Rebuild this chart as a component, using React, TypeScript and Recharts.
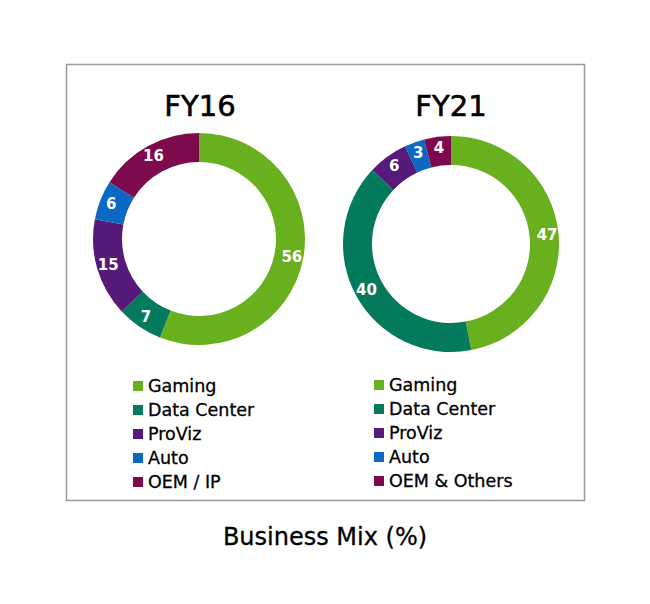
import { PieChart, Pie, Cell } from 'recharts'

const categories16 = ['Gaming', 'Data Center', 'ProViz', 'Auto', 'OEM / IP']
const categories21 = ['Gaming', 'Data Center', 'ProViz', 'Auto', 'OEM & Others']
const values16 = [56, 7, 15, 6, 16]
const values21 = [47, 40, 6, 3, 4]
const colors = ['#69b01f', '#027a5b', '#561a7b', '#0b68c4', '#7e0a4e']

const fy16 = categories16.map((name, i) => ({ name, value: values16[i] }))
const fy21 = categories21.map((name, i) => ({ name, value: values21[i] }))

const FONT = '"DejaVu Sans", Verdana, sans-serif'
const RAD = Math.PI / 180

const renderLabel = (props: any) => {
  const { cx, cy, midAngle, innerRadius, outerRadius, value } = props
  const r = (innerRadius + outerRadius) / 2 + 3
  const x = cx + r * Math.cos(-midAngle * RAD)
  const y = cy + r * Math.sin(-midAngle * RAD)
  return (
    <text
      x={x}
      y={y}
      fill="#ffffff"
      fontFamily={FONT}
      fontWeight="bold"
      fontSize={15}
      textAnchor="middle"
      dominantBaseline="central"
    >
      {value}
    </text>
  )
}

function LegendBlock({ x, y, names }: { x: number; y: number; names: string[] }) {
  return (
    <g>
      {names.map((n, i) => (
        <g key={n}>
          <rect x={x} y={y + i * 24 - 5} width={10} height={10} fill={colors[i]} />
          <text
            x={x + 15}
            y={y + i * 24}
            fontFamily={FONT}
            fontSize={17.5}
            fill="#000"
            stroke="#000"
            strokeWidth={0.3}
            dominantBaseline="central"
          >
            {n}
          </text>
        </g>
      ))}
    </g>
  )
}

export default function App() {
  return (
    <div style={{ position: 'absolute', left: 0, top: 0, width: 650, height: 604, background: '#fff' }}>
      <PieChart width={650} height={604} margin={{ top: 0, right: 0, bottom: 0, left: 0 }}>
        <rect x={66.5} y={64.5} width={518} height={436} fill="#fff" stroke="#9a9a9a" strokeWidth={1.5} />
        <text x={200} y={106} textAnchor="middle" dominantBaseline="central" fontFamily={FONT} fontSize={29} fill="#000" stroke="#000" strokeWidth={0.6}>
          FY16
        </text>
        <text x={451} y={106} textAnchor="middle" dominantBaseline="central" fontFamily={FONT} fontSize={29} fill="#000" stroke="#000" strokeWidth={0.6}>
          FY21
        </text>
        <Pie
          data={fy16}
          dataKey="value"
          cx={199}
          cy={239}
          innerRadius={77}
          outerRadius={106}
          startAngle={90}
          endAngle={-270}
          stroke="none"
          label={renderLabel}
          labelLine={false}
          isAnimationActive={false}
        >
          {fy16.map((d, i) => (
            <Cell key={d.name} fill={colors[i]} />
          ))}
        </Pie>
        <Pie
          data={fy21}
          dataKey="value"
          cx={451}
          cy={244}
          innerRadius={79}
          outerRadius={108}
          startAngle={90}
          endAngle={-270}
          stroke="none"
          label={renderLabel}
          labelLine={false}
          isAnimationActive={false}
        >
          {fy21.map((d, i) => (
            <Cell key={d.name} fill={colors[i]} />
          ))}
        </Pie>
        <LegendBlock x={133} y={386} names={categories16} />
        <LegendBlock x={374} y={385} names={categories21} />
        <text x={325} y={537} textAnchor="middle" dominantBaseline="central" fontFamily={FONT} fontSize={24} fill="#000" stroke="#000" strokeWidth={0.3}>
          Business Mix (%)
        </text>
      </PieChart>
    </div>
  )
}
